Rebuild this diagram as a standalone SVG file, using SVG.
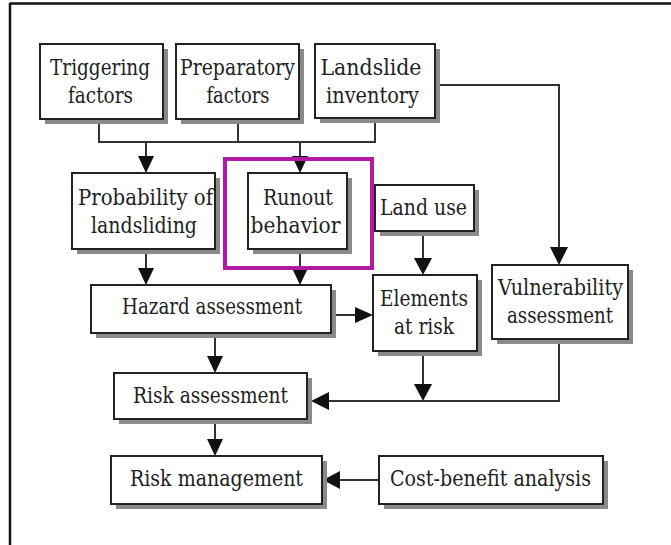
<svg xmlns="http://www.w3.org/2000/svg" width="671" height="545" viewBox="0 0 671 545">
<style>
.sh{fill:#8a8a8a}
.bx{fill:#fff;stroke:#222;stroke-width:2}
.t{font-family:'DejaVu Serif','Liberation Serif','Times New Roman',serif;font-size:22px;fill:#222;text-anchor:middle}
.c{fill:none;stroke:#333;stroke-width:2}
.h{fill:#111}
</style>
<rect x="0" y="0" width="671" height="545" fill="#fff"/>
<line x1="10" y1="3.5" x2="671" y2="3.5" stroke="#111" stroke-width="2.5"/>
<line x1="10" y1="3" x2="10" y2="545" stroke="#111" stroke-width="2.5"/>

<g id="connectors">
<polyline class="c" points="99,119 99,142 375,142 375,118"/>
<line class="c" x1="238" y1="119" x2="238" y2="142"/>
<line class="c" x1="146" y1="142" x2="146" y2="160"/>
<polygon class="h" points="138,156 154,156 146,173"/>
<line class="c" x1="300" y1="142" x2="300" y2="160"/>
<polygon class="h" points="292,156 308,156 300,173"/>
<polyline class="c" points="435,85 559,85 559,252"/>
<polygon class="h" points="550,247 568,247 559,265"/>
<line class="c" x1="146" y1="249" x2="146" y2="272"/>
<polygon class="h" points="138,268 154,268 146,285"/>
<line class="c" x1="300" y1="249" x2="300" y2="272"/>
<polygon class="h" points="292,268 308,268 300,285"/>
<line class="c" x1="423" y1="231" x2="423" y2="262"/>
<polygon class="h" points="414,258 432,258 423,275"/>
<line class="c" x1="331" y1="315" x2="360" y2="315"/>
<polygon class="h" points="355,307 355,323 373,315"/>
<line class="c" x1="215" y1="333" x2="215" y2="360"/>
<polygon class="h" points="207,356 223,356 215,373"/>
<line class="c" x1="423" y1="351" x2="423" y2="388"/>
<polygon class="h" points="414,384 432,384 423,401"/>
<polyline class="c" points="559,339 559,401 324,401"/>
<polygon class="h" points="329,392 329,410 311,401"/>
<line class="c" x1="215" y1="419" x2="215" y2="443"/>
<polygon class="h" points="207,439 223,439 215,456"/>
<line class="c" x1="379" y1="480" x2="336" y2="480"/>
<polygon class="h" points="340,471 340,489 323,480"/>
</g>

<g id="triggering">
<rect class="sh" x="45" y="49" width="123" height="75"/>
<rect class="bx" x="40" y="44" width="123" height="75"/>
<text class="t" x="100" y="75" textLength="100" lengthAdjust="spacingAndGlyphs">Triggering</text>
<text class="t" x="100.5" y="103" textLength="65" lengthAdjust="spacingAndGlyphs">factors</text>
</g>
<g id="preparatory">
<rect class="sh" x="181" y="49" width="123" height="75"/>
<rect class="bx" x="176" y="44" width="123" height="75"/>
<text class="t" x="237.5" y="75" textLength="115" lengthAdjust="spacingAndGlyphs">Preparatory</text>
<text class="t" x="238" y="103" textLength="63" lengthAdjust="spacingAndGlyphs">factors</text>
</g>
<g id="inventory">
<rect class="sh" x="320" y="49" width="120" height="74"/>
<rect class="bx" x="315" y="44" width="120" height="74"/>
<text class="t" x="371" y="75" textLength="101" lengthAdjust="spacingAndGlyphs">Landslide</text>
<text class="t" x="372.5" y="103" textLength="93" lengthAdjust="spacingAndGlyphs">inventory</text>
</g>
<g id="probability">
<rect class="sh" x="77" y="178" width="143" height="76"/>
<rect class="bx" x="72" y="173" width="143" height="76"/>
<text class="t" x="145.5" y="205" textLength="135" lengthAdjust="spacingAndGlyphs">Probability of</text>
<text class="t" x="144" y="233" textLength="106" lengthAdjust="spacingAndGlyphs">landsliding</text>
</g>
<g id="runout">
<rect class="sh" x="253" y="178" width="99" height="76"/>
<rect class="bx" x="248" y="173" width="99" height="76"/>
<text class="t" x="298" y="205" textLength="70" lengthAdjust="spacingAndGlyphs">Runout</text>
<text class="t" x="295.5" y="233" textLength="90" lengthAdjust="spacingAndGlyphs">behavior</text>
<rect x="225" y="159" width="147" height="109" fill="none" stroke="#B31AA3" stroke-width="4"/>
</g>
<g id="landuse">
<rect class="sh" x="380" y="190" width="99" height="46"/>
<rect class="bx" x="375" y="185" width="99" height="46"/>
<text class="t" x="423.5" y="215" textLength="87" lengthAdjust="spacingAndGlyphs">Land use</text>
</g>
<g id="hazard">
<rect class="sh" x="96" y="290" width="240" height="48"/>
<rect class="bx" x="91" y="285" width="240" height="48"/>
<text class="t" x="212" y="314" textLength="180" lengthAdjust="spacingAndGlyphs">Hazard assessment</text>
</g>
<g id="elements">
<rect class="sh" x="378" y="280" width="104" height="76"/>
<rect class="bx" x="373" y="275" width="104" height="76"/>
<text class="t" x="424" y="306" textLength="88" lengthAdjust="spacingAndGlyphs">Elements</text>
<text class="t" x="424" y="334" textLength="60" lengthAdjust="spacingAndGlyphs">at risk</text>
</g>
<g id="vulnerability">
<rect class="sh" x="497" y="270" width="136" height="74"/>
<rect class="bx" x="492" y="265" width="136" height="74"/>
<text class="t" x="560.5" y="295" textLength="125" lengthAdjust="spacingAndGlyphs">Vulnerability</text>
<text class="t" x="560" y="323" textLength="106" lengthAdjust="spacingAndGlyphs">assessment</text>
</g>
<g id="risk">
<rect class="sh" x="119" y="378" width="193" height="46"/>
<rect class="bx" x="114" y="373" width="193" height="46"/>
<text class="t" x="210.5" y="403" textLength="155" lengthAdjust="spacingAndGlyphs">Risk assessment</text>
</g>
<g id="management">
<rect class="sh" x="116" y="461" width="211" height="48"/>
<rect class="bx" x="111" y="456" width="211" height="48"/>
<text class="t" x="216.5" y="486" textLength="173" lengthAdjust="spacingAndGlyphs">Risk management</text>
</g>
<g id="costbenefit">
<rect class="sh" x="384" y="461" width="224" height="48"/>
<rect class="bx" x="379" y="456" width="224" height="48"/>
<text class="t" x="490.5" y="486" textLength="201" lengthAdjust="spacingAndGlyphs">Cost-benefit analysis</text>
</g>
</svg>
